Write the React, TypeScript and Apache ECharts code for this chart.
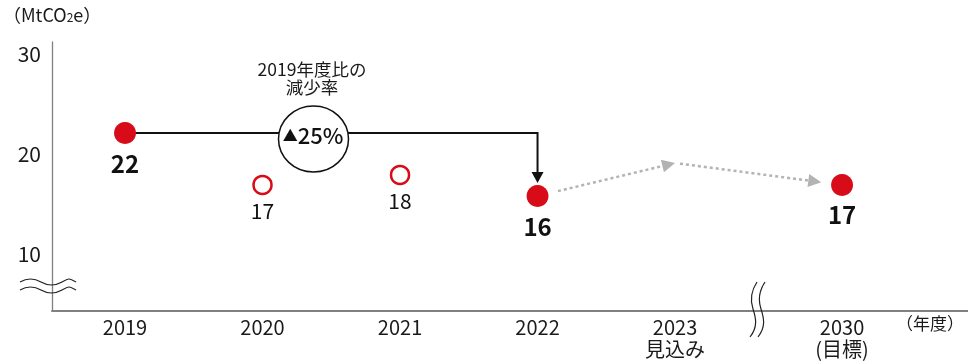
import React, { useEffect, useRef } from "react";
import * as echarts from "echarts";

// ---- data ----
const years = [2019, 2020, 2021, 2022, 2023, 2030];
const yearSubLabels = ["", "", "", "", "見込み", "(目標)"];
const yTicks = [10, 20, 30];

const actualYears = [2019, 2022];
const actualValues = [22.0, 15.7];
const actualLabels = ["22", "16"];

const otherYears = [2020, 2021];
const otherValues = [16.8, 17.8];
const otherLabels = ["17", "18"];

const targetYears = [2030];
const targetValues = [16.8];
const targetLabels = ["17"];

const forecastYear = 2023;
const forecastValue = 19.0;

const reductionText = "25%";
const reductionTitle = ["2019年度比の", "減少率"];

const FONT = "'Noto Sans CJK JP', 'Noto Sans', sans-serif";
const RED = "#d80c18";

const wavyH = "M0,3 C7,-1 14,-1 21,3 S35,7 42,3 S49,-1 56,3";
const wavyV = "M4,0 C-2,9 -3,18 0,27 S5,45 -3,55";
echarts.graphic.registerShape("wavyH", echarts.graphic.extendPath(wavyH, {}));
echarts.graphic.registerShape("wavyV", echarts.graphic.extendPath(wavyV, {}));

export default function App() {
  const ref = useRef<HTMLDivElement>(null);
  useEffect(() => {
    if (!ref.current) return;
    const chart = echarts.init(ref.current, null, { renderer: "svg" });

    const connectorData = [[actualYears[0], actualValues[0], actualYears[1], actualValues[1]]];
    const forecastData = [
      [actualYears[1], actualValues[1], forecastYear, forecastValue],
      [forecastYear, forecastValue, targetYears[0], targetValues[0]],
    ];

    const option: any = {
      animation: false,
      textStyle: { fontFamily: FONT },
      grid: { left: 52, right: 0, top: 42, bottom: 50, containLabel: false },
      xAxis: {
        type: "value",
        min: 2018.469,
        max: 2030.916,
        breaks: [{ start: 2023.5, end: 2029.5, gap: 0.2145 }],
        breakArea: { show: false },
        axisLine: { onZero: false, lineStyle: { color: "#808080", width: 2 } },
        axisTick: { show: false },
        splitLine: { show: false },
        axisLabel: {
          customValues: years,
          color: "#1a1a1a",
          fontSize: 20,
          lineHeight: 22,
          margin: 4,
          fontFamily: FONT,
          formatter: (v: number) => {
            const i = years.indexOf(Math.round(v));
            if (i < 0) return "";
            return yearSubLabels[i] ? `${years[i]}\n${yearSubLabels[i]}` : `${years[i]}`;
          },
        },
      },
      yAxis: {
        type: "value",
        min: 4.2,
        max: 31.1,
        axisLine: { show: true, lineStyle: { color: "#808080", width: 1.3 } },
        axisTick: { show: false },
        splitLine: { show: false },
        axisLabel: {
          customValues: yTicks,
          color: "#1a1a1a",
          fontSize: 21,
          margin: 11,
          fontFamily: FONT,
        },
      },
      series: [
        {
          type: "custom",
          name: "connector",
          z: 2,
          encode: { x: [0, 2], y: [1, 3] },
          data: connectorData,
          renderItem: (params: any, api: any) => {
            const p1 = api.coord([api.value(0), api.value(1)]);
            const p2 = api.coord([api.value(2), api.value(1)]);
            const p3 = api.coord([api.value(2), api.value(3)]);
            const tipY = p3[1] - 13;
            return {
              type: "group",
              children: [
                {
                  type: "polyline",
                  shape: { points: [p1, p2, [p2[0], tipY - 8]] },
                  style: { stroke: "#111", lineWidth: 2, fill: "none" },
                },
                {
                  type: "polygon",
                  shape: { points: [[p2[0] - 6, tipY - 11], [p2[0] + 6, tipY - 11], [p2[0], tipY]] },
                  style: { fill: "#111" },
                },
              ],
            };
          },
        },
        {
          type: "custom",
          name: "forecast",
          z: 2,
          encode: { x: [0, 2], y: [1, 3] },
          data: forecastData,
          renderItem: (params: any, api: any) => {
            const a = api.coord([api.value(0), api.value(1)]);
            const b = api.coord([api.value(2), api.value(3)]);
            const dx = b[0] - a[0];
            const dy = b[1] - a[1];
            const len = Math.sqrt(dx * dx + dy * dy);
            const ux = dx / len;
            const uy = dy / len;
            const s0 = params.dataIndex === 0 ? 21 : 5;
            const s1 = params.dataIndex === 0 ? 0 : 21;
            const start = [a[0] + ux * s0, a[1] + uy * s0];
            const tip = [b[0] - ux * s1, b[1] - uy * s1];
            const headL = 13;
            const headW = 6.5;
            const base = [tip[0] - ux * headL, tip[1] - uy * headL];
            const px = -uy;
            const py = ux;
            return {
              type: "group",
              children: [
                {
                  type: "line",
                  shape: { x1: start[0], y1: start[1], x2: base[0], y2: base[1] },
                  style: { stroke: "#b3b3b3", lineWidth: 2.5, lineDash: [3, 3] },
                },
                {
                  type: "polygon",
                  shape: {
                    points: [
                      [base[0] + px * headW, base[1] + py * headW],
                      [base[0] - px * headW, base[1] - py * headW],
                      tip,
                    ],
                  },
                  style: { fill: "#b3b3b3" },
                },
              ],
            };
          },
        },
        {
          type: "scatter",
          name: "actual",
          z: 5,
          symbol: "circle",
          symbolSize: 22,
          itemStyle: { color: RED, opacity: 1 },
          data: actualYears.map((y, i) => [y, actualValues[i]]),
          label: {
            show: true,
            position: "bottom",
            distance: 6,
            color: "#111",
            fontSize: 24,
            fontWeight: "bold",
            fontFamily: FONT,
            formatter: (p: any) => actualLabels[p.dataIndex],
          },
        },
        {
          type: "scatter",
          name: "other",
          z: 5,
          symbol: "circle",
          symbolSize: 18,
          itemStyle: { color: "#fff", borderColor: RED, borderWidth: 2.5, opacity: 1 },
          data: otherYears.map((y, i) => [y, otherValues[i]]),
          label: {
            show: true,
            position: "bottom",
            distance: 4,
            color: "#111",
            fontSize: 21,
            fontFamily: FONT,
            formatter: (p: any) => otherLabels[p.dataIndex],
          },
        },
        {
          type: "scatter",
          name: "target",
          z: 5,
          symbol: "circle",
          symbolSize: 22,
          itemStyle: { color: RED, opacity: 1 },
          data: targetYears.map((y, i) => [y, targetValues[i]]),
          label: {
            show: true,
            position: "bottom",
            distance: 5,
            color: "#111",
            fontSize: 24,
            fontWeight: "bold",
            fontFamily: FONT,
            formatter: (p: any) => targetLabels[p.dataIndex],
          },
        },
      ],
      graphic: [
        {
          type: "text",
          left: 3,
          top: 5,
          z: 100,
          style: {
            text: "（MtCO{s|2}e）",
            fontSize: 18,
            fontFamily: FONT,
            fill: "#1a1a1a",
            rich: { s: { fontSize: 12, fontFamily: FONT, fill: "#1a1a1a", padding: [5, 0, 0, 0] } },
          },
        },
        {
          type: "text",
          left: 896,
          top: 314,
          z: 100,
          style: { text: "（年度）", fontSize: 17, fontFamily: FONT, fill: "#1a1a1a" },
        },
        {
          type: "line",
          z: 100,
          shape: { x1: 735, y1: 311, x2: 790, y2: 311 },
          style: { stroke: "#808080", lineWidth: 2 },
        },
        {
          type: "ellipse",
          z: 100,
          shape: { cx: 313.5, cy: 139, rx: 35, ry: 33 },
          style: { fill: "#fff", stroke: "#111", lineWidth: 1.5 },
        },
        {
          type: "text",
          z: 101,
          x: 313,
          y: 134,
          style: {
            text: "{t|▲}{n|" + reductionText + "}",
            align: "center",
            verticalAlign: "middle",
            rich: {
              t: { fontSize: 15, fontFamily: FONT, fill: "#111" },
              n: { fontSize: 22, fontFamily: FONT, fill: "#111", fontWeight: 500 },
            },
          },
        },
        {
          type: "text",
          z: 100,
          x: 312,
          y: 68,
          style: {
            text: reductionTitle[0],
            align: "center",
            verticalAlign: "middle",
            fontSize: 17.5,
            lineHeight: 18,
            fontFamily: FONT,
            fill: "#1a1a1a",
          },
        },
        {
          type: "text",
          z: 100,
          x: 312,
          y: 86.5,
          style: {
            text: reductionTitle[1],
            align: "center",
            verticalAlign: "middle",
            fontSize: 17.5,
            lineHeight: 18,
            fontFamily: FONT,
            fill: "#1a1a1a",
          },
        },
        {
          type: "wavyH",
          z: 100,
          x: 20,
          y: 279,
          style: { fill: "none", stroke: "#222", lineWidth: 1.2 },
        },
        {
          type: "wavyH",
          z: 100,
          x: 20,
          y: 287,
          style: { fill: "none", stroke: "#222", lineWidth: 1.2 },
        },
        {
          type: "wavyV",
          z: 101,
          x: 753,
          y: 282,
          style: { fill: "none", stroke: "#222", lineWidth: 1.2 },
        },
        {
          type: "wavyV",
          z: 101,
          x: 761,
          y: 282,
          style: { fill: "none", stroke: "#222", lineWidth: 1.2 },
        },
      ],
    };

    chart.setOption(option);
    return () => chart.dispose();
  }, []);

  return (
    <div
      ref={ref}
      style={{ position: "fixed", left: 0, top: 0, width: 968, height: 361 }}
    />
  );
}
